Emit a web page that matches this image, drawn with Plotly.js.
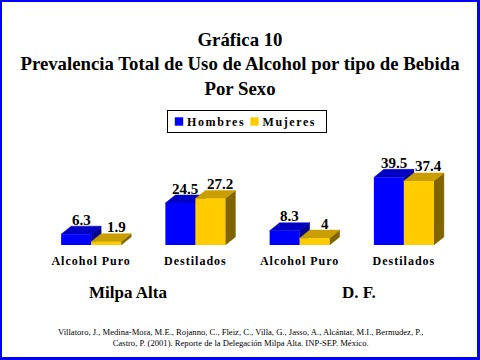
<!DOCTYPE html>
<html>
<head>
<meta charset="utf-8">
<script src="https://cdn.plot.ly/plotly-3.0.1.min.js"></script>
<style>
  html, body { margin: 0; padding: 0; background: #fff; }
  #wrap { position: relative; width: 480px; height: 360px; }
  #chart { width: 480px; height: 360px; }
  #frame { position: absolute; left: 0; top: 0; width: 480px; height: 360px; box-sizing: border-box;
           border-style: solid; border-color: #0000FF; border-width: 2px 3px 3px 2px; pointer-events: none; }
  .xtick text { letter-spacing: 1px; }
  .legend text.legendtext { letter-spacing: 1.6px; transform: translateX(-21px); }
  .legend .legendpoints path { transform: translate(11px, 0px) scale(0.7); }
  .legend rect.bg { width: 159px; height: 22px; }
  .legend .traces:nth-of-type(1) { transform: translate(1px, 11.5px); }
  .legend .traces:nth-of-type(2) { transform: translate(76.5px, 11.5px); }
</style>
</head>
<body>
<div id="wrap"><div id="chart"></div><div id="frame"></div></div>
<script>
// ---- data ----
const groups = ['Milpa Alta', 'D. F.'];
const categories = ['Alcohol Puro', 'Destilados', 'Alcohol Puro', 'Destilados'];
const seriesNames = ['Hombres', 'Mujeres'];
const hombres = [6.3, 24.5, 8.3, 39.5];
const mujeres = [1.9, 27.2, 4, 37.4];
const citation = ['Villatoro, J., Medina-Mora, M.E., Rojanno, C., Fleiz, C., Villa, G., Jasso, A., Alcántar, M.I., Bermudez, P.,',
                  'Castro, P. (2001). Reporte de la Delegación Milpa Alta. INP-SEP. México.'];
const titleLines = ['Gráfica 10', 'Prevalencia Total de Uso de Alcohol por tipo de Bebida', 'Por Sexo'];

// ---- styling / geometry ----
const FONT = 'Liberation Serif, Times New Roman, serif';
const colors = {
  Hombres: { front: '#0000FF', top: '#0000C4', side: '#000090' },
  Mujeres: { front: '#FFCC00', top: '#C89E00', side: '#806400' }
};
const W = 0.2878;      // bar width (x units)
const DX = 0.096;      // depth x (x units)
const DY = 4.7;        // depth y (value units)
const YMAX = 55.5;

const pos = categories.map((c, i) => i);

function faces(vals, offset) {
  const tx = [], ty = [], sx = [], sy = [];
  vals.forEach((v, i) => {
    const x0 = pos[i] + offset, x1 = x0 + W;
    tx.push(x0, x1, x1 + DX, x0 + DX, x0, null);
    ty.push(v, v, v + DY, v + DY, v, null);
    sx.push(x1, x1 + DX, x1 + DX, x1, x1, null);
    sy.push(0, DY, v + DY, v, 0, null);
  });
  return { tx, ty, sx, sy };
}

const traces = [];
const series = [[seriesNames[0], hombres, -W, DX / 2], [seriesNames[1], mujeres, 0, DX]];
series.forEach(([name, vals, off], k) => {
  const f = faces(vals, off);
  const c = colors[name];
  traces.push({ type: 'scatter', mode: 'lines', x: f.sx, y: f.sy, fill: 'toself', fillcolor: c.side,
    line: { color: c.side, width: 0.5 }, hoverinfo: 'skip', showlegend: false, zorder: 2 * k });
  traces.push({ type: 'scatter', mode: 'lines', x: f.tx, y: f.ty, fill: 'toself', fillcolor: c.top,
    line: { color: c.top, width: 0.5 }, hoverinfo: 'skip', showlegend: false, zorder: 2 * k });
  traces.push({ type: 'bar', name: name, x: pos, y: vals, width: W, offset: off, base: 0,
    marker: { color: c.front, line: { width: 0 } }, zorder: 2 * k + 1 });
});

const annotations = [];
series.forEach(([name, vals, off, lblShift]) => {
  vals.forEach((v, i) => {
    annotations.push({ x: pos[i] + off + W / 2 + lblShift, y: v + DY, xref: 'x', yref: 'y',
      text: String(v), showarrow: false, yanchor: 'bottom', yshift: -3.5,
      font: { family: FONT, size: 15, weight: 'bold', color: '#000' } });
  });
});
// group labels
const groupX = [0.35, 2.57];
groups.forEach((g, j) => {
  annotations.push({ x: groupX[j], y: -0.505, xref: 'x', yref: 'paper', text: g, showarrow: false,
    yanchor: 'middle', font: { family: FONT, size: 17, weight: 'bold', color: '#000' } });
});
annotations.push({ x: (240 - 39) / 417, y: -0.973, xref: 'paper', yref: 'paper', text: citation.join('<br>'),
  showarrow: false, yanchor: 'middle', align: 'center',
  font: { family: FONT, size: 8.6, color: '#000' } });

const layout = {
  width: 480, height: 360,
  margin: { l: 39, r: 24, t: 150, b: 115 },
  paper_bgcolor: '#fff', plot_bgcolor: '#fff',
  title: { text: titleLines.join('<br>'), x: 0.5, xref: 'container', y: 1 - 46 / 360, yref: 'container',
    yanchor: 'middle', font: { family: FONT, size: 18.8, weight: 'bold', color: '#000' } },
  barmode: 'overlay',
  showlegend: true,
  legend: { orientation: 'h', xref: 'container', yref: 'container', x: 167 / 480, y: 1 - 110 / 360,
    xanchor: 'left', yanchor: 'top', bordercolor: '#000', borderwidth: 1, bgcolor: '#fff',
    font: { family: FONT, size: 12, weight: 'bold', color: '#000' }, itemwidth: 30, traceorder: 'normal' },
  xaxis: { range: [-0.5, 3.5], tickvals: pos, ticktext: categories, showgrid: false, zeroline: false,
    showline: false, ticks: '', ticklabelstandoff: 7,
    tickfont: { family: FONT, size: 12, weight: 'bold', color: '#000' }, fixedrange: true },
  yaxis: { range: [0, YMAX], visible: false, fixedrange: true },
  annotations: annotations
};

Plotly.newPlot('chart', traces, layout, { displayModeBar: false, staticPlot: true });
</script>
</body>
</html>
